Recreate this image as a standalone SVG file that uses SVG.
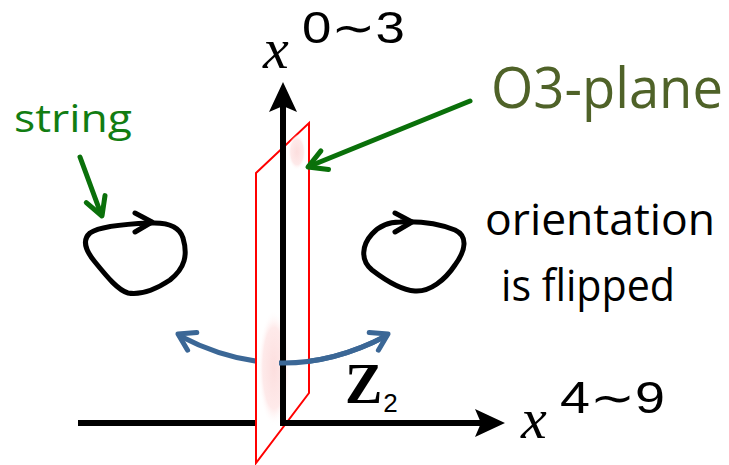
<svg xmlns="http://www.w3.org/2000/svg" width="729" height="465" viewBox="0 0 729 465">
<style>
.axis{stroke:#000;stroke-width:6;fill:none}
.loop{stroke:#000;stroke-width:5;fill:none;stroke-linecap:round;stroke-linejoin:round}
.green{stroke:#0a700a;stroke-width:5;fill:none;stroke-linecap:round;stroke-linejoin:round}
.blue{stroke:#3b6796;stroke-width:5;fill:none;stroke-linecap:round;stroke-linejoin:round}
.sans{font-family:"Open Sans","Liberation Sans",sans-serif}
.math{font-family:"Liberation Serif","DejaVu Serif",serif}
.sup{font-family:"Liberation Sans","DejaVu Sans",sans-serif}
</style>
<defs>
<clipPath id="front"><rect x="279" y="0" width="450" height="465"/></clipPath>
<clipPath id="planeClip"><polygon points="256,173 309,123 309,393 256,463"/></clipPath>
<radialGradient id="pink" cx="0.5" cy="0.5" r="0.5">
<stop offset="0" stop-color="#fcdede"/>
<stop offset="0.7" stop-color="#feeaea"/>
<stop offset="1" stop-color="#ffffff" stop-opacity="0"/>
</radialGradient>
</defs>
<g id="connectors">
<line class="axis" x1="78" y1="423" x2="283" y2="423"/>
<path class="blue" d="M180,336 Q283,390 386,336"/>
</g>
<g id="plane">
<polygon points="256,173 309,123 309,393 256,463" fill="#fff" stroke="#ff0000" stroke-width="2"/>
<g clip-path="url(#planeClip)">
<ellipse cx="274" cy="368" rx="16" ry="58" fill="url(#pink)"/>
<ellipse cx="297" cy="152" rx="9" ry="18" fill="url(#pink)"/>
</g>
</g>
<g id="axes">
<line class="axis" x1="283" y1="105" x2="283" y2="426"/>
<polygon points="283,82 297,112 283,106 269,112" fill="#000"/>
<line class="axis" x1="280" y1="423" x2="482" y2="423"/>
<polygon points="505,423 475,409 481,423 475,437" fill="#000"/>
</g>
<g id="z2-arrow">
<path class="blue" d="M180,336 Q283,390 386,336" clip-path="url(#front)"/>
<polyline class="blue" points="196.8,332.4 178,334 187.6,350.2"/>
<polyline class="blue" points="369.2,332.4 388,334 378.4,350.2"/>
</g>
<g id="loop-left">
<path class="loop" d="M150,223 C170,222 180,228 183,238 C188,255 185,268 170,280 C155,290 140,295 128,293 C118,290 108,278 95,262 C85,250 82,240 90,233 C100,226 125,224 150,223 Z"/>
<polyline class="loop" points="135,213 152,222 135,232"/>
</g>
<g id="loop-right">
<path class="loop" d="M400,222 C420,221 440,224 455,230 C468,236 466,250 455,265 C445,280 430,292 415,291 C400,290 385,280 372,270 C360,260 362,245 372,234 C380,225 390,222 400,222 Z"/>
<polyline class="loop" points="395,213 412,222 395,232"/>
</g>
<g id="string-arrow">
<line class="green" x1="80" y1="157" x2="101" y2="214"/>
<polyline class="green" points="105,195.6 102,216 86.3,202.6"/>
</g>
<g id="o3-arrow">
<line class="green" x1="470" y1="101" x2="310" y2="166"/>
<polyline class="green" points="320.9,150.9 308,167 328.5,169.5"/>
</g>
<g id="labels">
<text class="sans" x="14" y="132" font-size="39" fill="#127d12" textLength="118" lengthAdjust="spacingAndGlyphs">string</text>
<text class="sans" x="491" y="108" font-size="56" fill="#4f6228" textLength="232" lengthAdjust="spacingAndGlyphs">O3-plane</text>
<text class="sans" x="485" y="235" font-size="44" fill="#000" textLength="230" lengthAdjust="spacingAndGlyphs">orientation</text>
<text class="sans" x="501" y="301" font-size="44" fill="#000" textLength="174" lengthAdjust="spacingAndGlyphs">is flipped</text>
<text class="math" x="263" y="68" font-size="58" font-style="italic" fill="#000">x</text>
<text class="sup" x="302" y="43" font-size="44" fill="#000" textLength="103" lengthAdjust="spacingAndGlyphs">0∼3</text>
<text class="math" x="521" y="438" font-size="58" font-style="italic" fill="#000">x</text>
<text class="sup" x="560" y="413" font-size="44" fill="#000" textLength="105" lengthAdjust="spacingAndGlyphs">4∼9</text>
<text class="math" x="345" y="403" font-size="56" font-weight="bold" fill="#000">Z<tspan class="sup" font-size="26" font-weight="normal" dx="1" dy="9">2</tspan></text>
</g>
</svg>
